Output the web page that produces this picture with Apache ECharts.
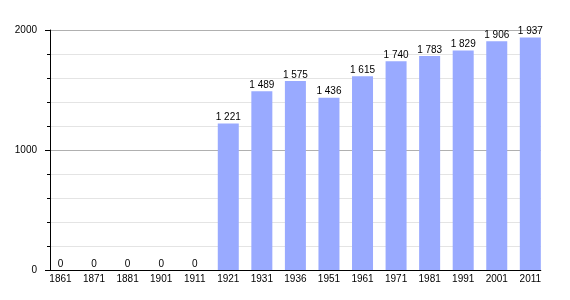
<!DOCTYPE html>
<html><head><meta charset="utf-8">
<script src="https://cdn.jsdelivr.net/npm/echarts@6/dist/echarts.min.js"></script>
<style>html,body{margin:0;padding:0;background:#fff}#c{width:570px;height:300px}</style>
</head><body><div id="c"></div>
<script>
const years = ['1861','1871','1881','1901','1911','1921','1931','1936','1951','1961','1971','1981','1991','2001','2011'];
const population = [0,0,0,0,0,1221,1489,1575,1436,1615,1740,1783,1829,1906,1937];
const yTicks = [0,1000,2000];

const FONT = 'Liberation Sans';
const fmt = v => String(v).replace(/\B(?=(\d{3})+(?!\d))/g, ' ');
const chart = echarts.init(document.getElementById('c'), null, {renderer:'canvas'});
chart.setOption({
  animation:false,
  backgroundColor:'#fff',
  grid:[
    {left:43.7, width:503.4, top:30, height:240},
    {left:50, width:490.8, top:30, height:240}
  ],
  xAxis:[
    {type:'category', gridIndex:0, data:years, axisLine:{show:false}, axisTick:{show:false},
     axisLabel:{fontFamily:FONT, fontSize:10, color:'#000', margin:4, interval:0}},
    {type:'value', gridIndex:1, min:0, max:1, axisLine:{show:true, lineStyle:{color:'#000', width:1}},
     axisTick:{show:false}, axisLabel:{show:false}, splitLine:{show:false}}
  ],
  yAxis:[
    {type:'value', gridIndex:0, min:yTicks[0], max:yTicks[2], show:false, splitLine:{show:false}},
    {type:'value', gridIndex:1, min:yTicks[0], max:yTicks[2], interval:1000,
     axisLine:{show:true, lineStyle:{color:'#000'}},
     axisTick:{show:true, length:5, lineStyle:{color:'#000'}},
     minorTick:{show:true, splitNumber:5, length:3, lineStyle:{color:'#000'}},
     splitLine:{show:true, lineStyle:{color:'#b0b0b0'}},
     minorSplitLine:{show:true, lineStyle:{color:'#e4e4e4'}},
     axisLabel:{fontFamily:FONT, fontSize:10, color:'#000', margin:13, formatter:v=>String(v)}}
  ],
  series:[{
    type:'bar', xAxisIndex:0, yAxisIndex:0, data:population, barWidth:21,
    itemStyle:{color:'#99aaff'},
    label:{show:true, position:'top', distance:1, fontFamily:FONT, fontSize:10, color:'#000',
      formatter:p=>fmt(p.value)}
  }]
});
</script></body></html>
